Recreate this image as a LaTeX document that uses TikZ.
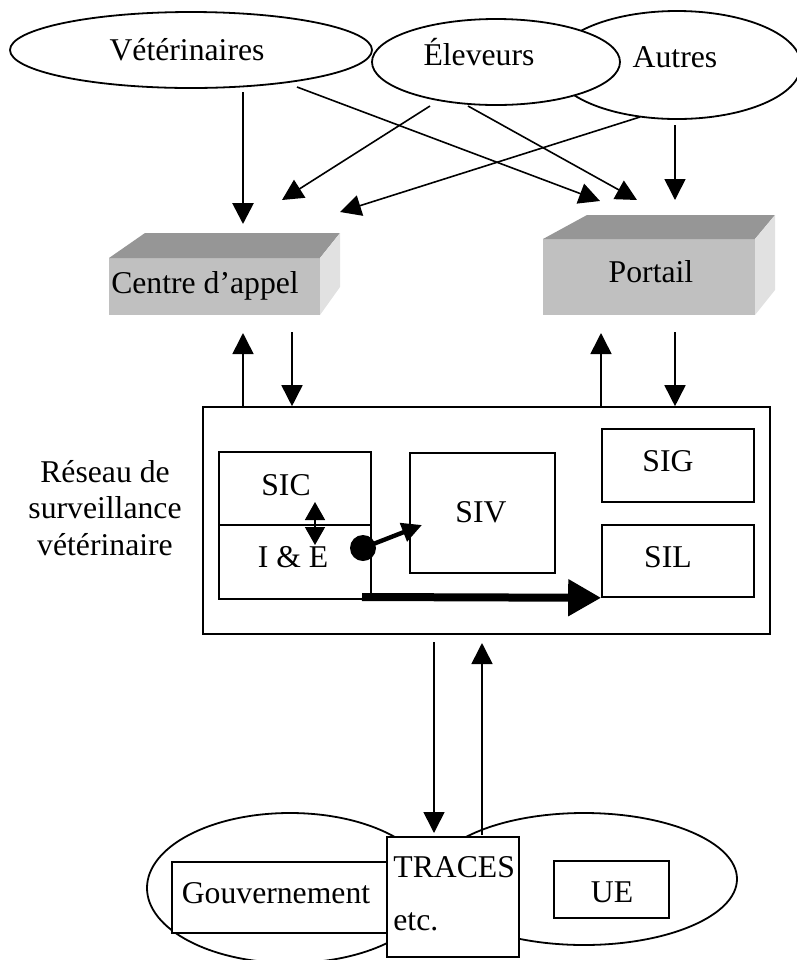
\documentclass[tikz,border=0pt]{standalone}
\usepackage{fontspec}
\setmainfont{Liberation Serif}
\usetikzlibrary{shapes.geometric,arrows.meta}
\definecolor{boxtop}{RGB}{150,150,150}
\definecolor{boxfront}{RGB}{192,192,192}
\definecolor{boxside}{RGB}{225,225,225}
\tikzstyle{ell} = [ellipse, draw, fill=white, line width=0.9pt, inner sep=0pt]
\tikzstyle{box} = [rectangle, draw, fill=white, line width=0.8pt, inner sep=0pt]
\tikzstyle{lbl} = [anchor=base, inner sep=0pt]
\tikzstyle{arr} = [-{Triangle[length=10.5pt,width=10.5pt]}, line width=0.8pt]
\tikzstyle{fat} = [-{Triangle[length=16.5pt,width=17.5pt]}, line width=4pt]

\begin{document}
\begin{tikzpicture}[x=0.5pt, y=-0.5pt, font=\fontsize{15.85pt}{18.25pt}\selectfont]
\useasboundingbox (0,0) rectangle (797,960);
\node[ell, minimum width=124pt, minimum height=54pt] (aut) at (677,65) {};
\node[ell, minimum width=124pt, minimum height=43pt] (ele) at (496,62) {};
\node[ell, minimum width=181pt, minimum height=38pt] (vet) at (191,50) {};
\node[lbl] (vettxt) at (187,60) {Vétérinaires};
\node[lbl] (eletxt) at (479,65) {Éleveurs};
\node[lbl] (auttxt) at (675,67) {Autres};

\fill[boxfront] (109,258) rectangle (320,315);
\fill[boxtop] (109,258) -- (145,233) -- (340,233) -- (320,258) -- cycle;
\fill[boxside] (320,258) -- (340,233) -- (340,287) -- (320,315) -- cycle;
\node[lbl] (ca) at (205,293) {Centre d’appel};
\fill[boxfront] (543,239) rectangle (755,315);
\fill[boxtop] (543,239) -- (587,215) -- (775,215) -- (755,239) -- cycle;
\fill[boxside] (755,239) -- (775,215) -- (775,290) -- (755,315) -- cycle;
\node[lbl] (por) at (651,282) {Portail};

\coordinate (vet-s) at (243,92);   \coordinate (ca-in1) at (243,224);
\coordinate (vet-se) at (297,87);  \coordinate (por-in1) at (600,201);
\coordinate (ele-sw) at (430,106); \coordinate (ca-in2) at (282,200);
\coordinate (ele-s) at (468,106);  \coordinate (por-in2) at (637,200);
\coordinate (aut-sw) at (640,117); \coordinate (ca-in3) at (340,212);
\coordinate (aut-s) at (675,125);  \coordinate (por-in3) at (675,200);
\draw[arr, line width=1.4pt] (vet-s) -- (ca-in1);
\draw[arr] (vet-se) -- (por-in1);
\draw[arr] (ele-sw) -- (ca-in2);
\draw[arr] (ele-s) -- (por-in2);
\draw[arr] (aut-sw) -- (ca-in3);
\draw[arr] (aut-s) -- (por-in3);

\node[box, minimum width=283.5pt, minimum height=113.5pt] (rsv) at (486.5,520.5) {};
\node[align=center, inner sep=0pt] (rsvtxt) at (105,508) {Réseau de\\surveillance\\vétérinaire};
\coordinate (ca-out) at (243,333);  \coordinate (ca-dn) at (292,332);
\coordinate (por-out) at (601,333); \coordinate (por-dn) at (675,332);
\draw[arr] (rsv.north -| ca-out) -- (ca-out);
\draw[arr] (ca-dn) -- (ca-dn |- rsv.north);
\draw[arr] (rsv.north -| por-out) -- (por-out);
\draw[arr] (por-dn) -- (por-dn |- rsv.north);

\node[box, minimum width=76pt, minimum height=36.5pt] (sic) at (295,488.5) {};
\node[box, minimum width=76pt, minimum height=37pt] (ie) at (295,562) {};
\node[box, minimum width=72.5pt, minimum height=60pt] (siv) at (482.5,513) {};
\node[box, minimum width=76pt, minimum height=36.5pt] (sig) at (678,465.5) {};
\node[box, minimum width=76pt, minimum height=36pt] (sil) at (678,561) {};
\node[lbl] (sictxt) at (286,495) {SIC};
\node[lbl] (ietxt) at (293,567) {I \& E};
\node[lbl] (sivtxt) at (481,522) {SIV};
\node[lbl] (sigtxt) at (668,471) {SIG};
\node[lbl] (siltxt) at (668,567) {SIL};

\coordinate (sic-ie1) at (315,502); \coordinate (sic-ie2) at (315,545);
\draw[{Triangle[length=9pt,width=10pt]}-{Triangle[length=9pt,width=10pt]}, line width=0.8pt] (sic-ie1) -- (sic-ie2);
\node[circle, fill, inner sep=0pt, minimum size=13pt] (dot) at (363,548) {};
\coordinate (siv-in) at (422,525);
\draw[line width=2.2pt, -{Triangle[length=10pt,width=9.5pt]}] (dot.center) -- (siv-in);
\coordinate (ie-out) at (362,597);
\draw[fat] (ie-out) -- (sil.south west);

\node[ell, minimum width=143pt, minimum height=75pt] (govell) at (290,888) {};
\node[ell, minimum width=153pt, minimum height=66pt] (ueell) at (584,879) {};
\node[box, minimum width=66pt, minimum height=60pt] (traces) at (453,897) {};
\node[box, minimum width=107.5pt, minimum height=35.5pt] (gov) at (279.5,897.5) {};
\node[box, minimum width=57.5pt, minimum height=28.5pt] (ue) at (611.5,889.5) {};
\node[lbl, anchor=base west] (trtxt) at (393,877) {TRACES};
\node[lbl, anchor=base west] (etctxt) at (393,930) {etc.};
\node[lbl] (govtxt) at (276,903) {Gouvernement};
\node[lbl] (uetxt) at (612,902) {UE};

\coordinate (rsv-dn) at (434,642); \coordinate (tr-in) at (434,833);
\coordinate (tr-up) at (482,835);  \coordinate (rsv-in) at (482,643);
\draw[arr] (rsv-dn) -- (tr-in);
\draw[arr] (tr-up) -- (rsv-in);
\end{tikzpicture}
\end{document}
